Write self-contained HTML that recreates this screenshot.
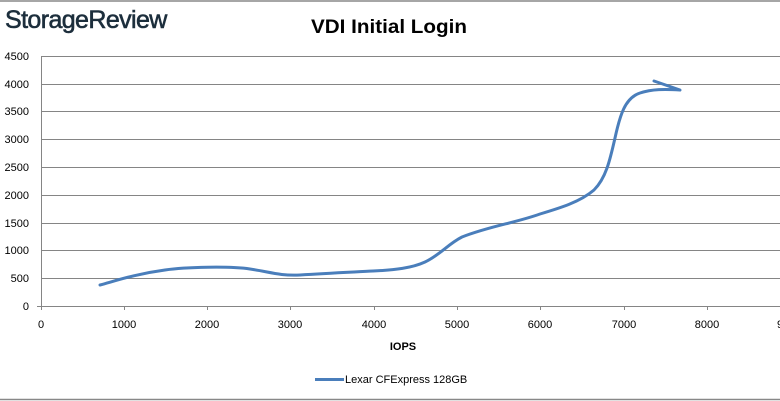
<!DOCTYPE html>
<html><head><meta charset="utf-8"><style>
body{margin:0;background:#fff;}
svg{display:block;font-family:"Liberation Sans",sans-serif;}
</style></head><body>
<svg width="780" height="401" viewBox="0 0 780 401">
<line x1="0" y1="1" x2="780" y2="1" stroke="#888" stroke-width="1.5"/>
<line x1="0" y1="399.5" x2="780" y2="399.5" stroke="#888" stroke-width="1.5"/>
<text x="5" y="28" font-size="25" fill="#1c2e3c" stroke="#1c2e3c" stroke-width="0.6" letter-spacing="-0.6">StorageReview</text>
<text x="389" y="33" font-size="19" font-weight="bold" text-anchor="middle" fill="#000" textLength="156" lengthAdjust="spacingAndGlyphs">VDI Initial Login</text>
<g stroke="#858585" stroke-width="1">
<line x1="41" y1="56.5" x2="780" y2="56.5"/>
<line x1="41" y1="84.5" x2="780" y2="84.5"/>
<line x1="41" y1="111.5" x2="780" y2="111.5"/>
<line x1="41" y1="139.5" x2="780" y2="139.5"/>
<line x1="41" y1="167.5" x2="780" y2="167.5"/>
<line x1="41" y1="195.5" x2="780" y2="195.5"/>
<line x1="41" y1="223.5" x2="780" y2="223.5"/>
<line x1="41" y1="250.5" x2="780" y2="250.5"/>
<line x1="41" y1="278.5" x2="780" y2="278.5"/>
<line x1="37" y1="306.5" x2="780" y2="306.5"/>
<line x1="41.5" y1="56" x2="41.5" y2="310"/>
<line x1="124.5" y1="306" x2="124.5" y2="310"/>
<line x1="207.5" y1="306" x2="207.5" y2="310"/>
<line x1="290.5" y1="306" x2="290.5" y2="310"/>
<line x1="374.5" y1="306" x2="374.5" y2="310"/>
<line x1="457.5" y1="306" x2="457.5" y2="310"/>
<line x1="540.5" y1="306" x2="540.5" y2="310"/>
<line x1="624.5" y1="306" x2="624.5" y2="310"/>
<line x1="707.5" y1="306" x2="707.5" y2="310"/>
</g>
<g font-size="11" fill="#000" text-anchor="end">
<text x="29" y="60">4500</text><text x="29" y="88">4000</text><text x="29" y="115">3500</text>
<text x="29" y="143">3000</text><text x="29" y="171">2500</text><text x="29" y="199">2000</text>
<text x="29" y="227">1500</text><text x="29" y="254">1000</text><text x="29" y="282">500</text>
<text x="29" y="310">0</text>
</g>
<g font-size="11" fill="#000" text-anchor="middle">
<text x="41" y="328">0</text><text x="124" y="328">1000</text><text x="207" y="328">2000</text>
<text x="290" y="328">3000</text><text x="374" y="328">4000</text><text x="457" y="328">5000</text>
<text x="540" y="328">6000</text><text x="624" y="328">7000</text><text x="707" y="328">8000</text>
<text x="780" y="328">9</text>
</g>
<text x="403" y="350" font-size="11" font-weight="bold" text-anchor="middle">IOPS</text>
<path d="M100,285 C115,281 135,274 165,270 C185,267 230,266 250,269 C270,272 280,276 300,275 C330,273 355,272 373,271 C395,270 412,268 425,262 C440,255 448,244 462,237 C490,226 515,223 540,214 C560,208 580,202 594,190 C606,178 610,160 615,138 C620,115 625,98 640,93 C652,89 665,89 680,90 L654,81" fill="none" stroke="#4a7ebb" stroke-width="3" stroke-linejoin="round" stroke-linecap="round"/>
<line x1="315" y1="379.5" x2="344" y2="379.5" stroke="#4a7ebb" stroke-width="3"/>
<text x="345" y="383" font-size="11" fill="#000">Lexar CFExpress 128GB</text>
</svg>
</body></html>
